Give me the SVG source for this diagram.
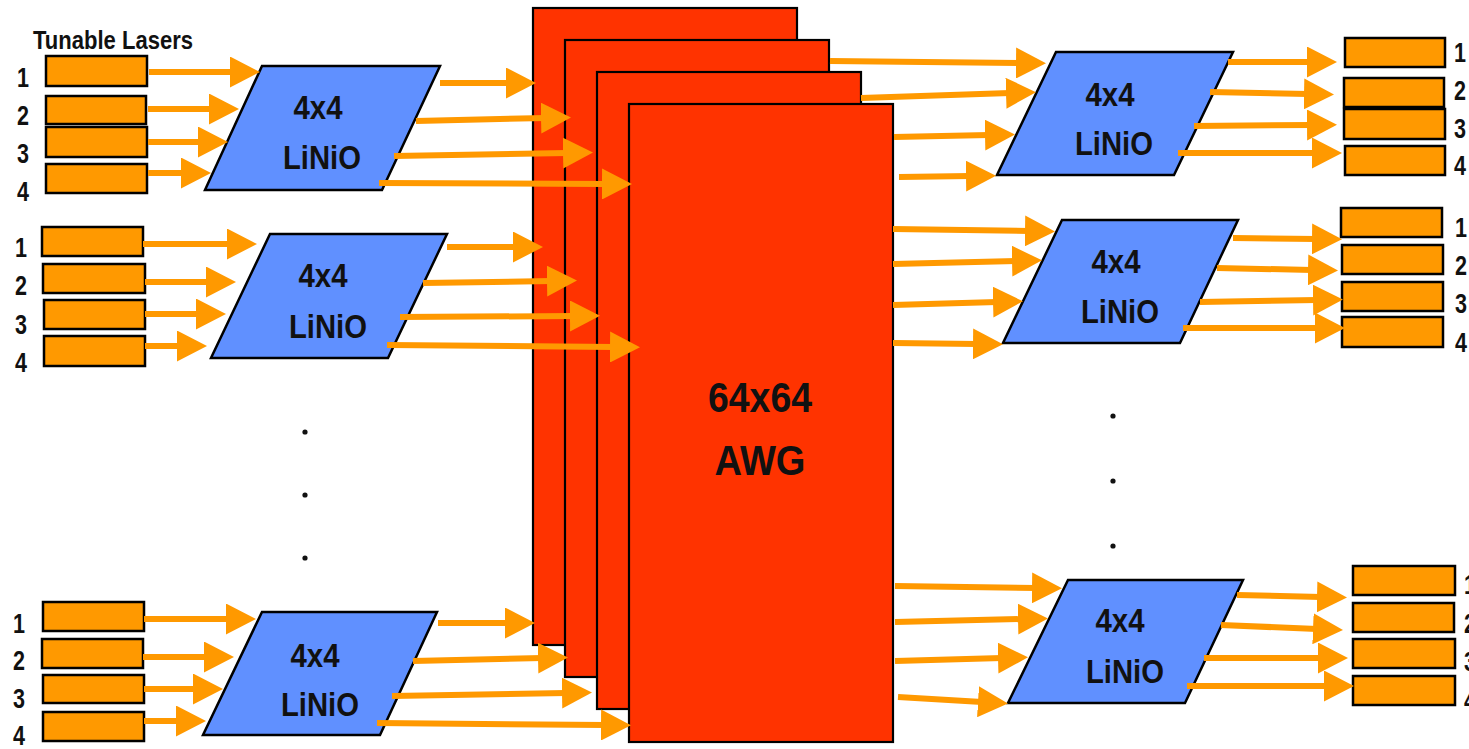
<svg xmlns="http://www.w3.org/2000/svg" width="1469" height="749" viewBox="0 0 1469 749">
  <defs>
    <style>
      .laser { fill: #FF9900; stroke: #000; stroke-width: 2.5; }
      .mod { fill: #6090FF; stroke: #000; stroke-width: 2.5; stroke-linejoin: miter; }
      .awg { fill: #FF3300; stroke: #000; stroke-width: 2.2; }
      .beam { fill: none; stroke: #FF9900; stroke-width: 6; marker-end: url(#head); }
      .lbl { font-family: "Liberation Sans Narrow", "Liberation Sans", Arial, sans-serif; font-weight: bold; fill: #111; }
      .num { font-family: "Liberation Sans Narrow", "Liberation Sans", Arial, sans-serif; font-weight: bold; font-size: 27px; fill: #111; }
      .modtxt { font-size: 33px; text-anchor: middle; }
      .dot { fill: #111; }
    </style>
    <marker id="head" markerUnits="userSpaceOnUse" markerWidth="31" markerHeight="31" viewBox="0 0 31 31" refX="4" refY="15.5" orient="auto">
      <path d="M0,0 L30,15.5 L0,31 z" fill="#FF9900"/>
    </marker>
  </defs>

  <rect width="1469" height="749" fill="#fff"/>

  <!-- stacked 64x64 AWG planes -->
  <g id="awg">
    <rect class="awg" x="533" y="8" width="264" height="637"/>
    <rect class="awg" x="565" y="40" width="264" height="637"/>
    <rect class="awg" x="597" y="72" width="264" height="637"/>
    <rect class="awg" x="629" y="104" width="264" height="638"/>
    <text class="lbl" x="760" y="412" font-size="43" text-anchor="middle" textLength="104" lengthAdjust="spacingAndGlyphs">64x64</text>
    <text class="lbl" x="760" y="475" font-size="43" text-anchor="middle" textLength="91" lengthAdjust="spacingAndGlyphs">AWG</text>
  </g>

  <text id="title" x="33" y="49" font-family="'Liberation Sans Narrow', 'Liberation Sans', Arial, sans-serif" font-size="25" font-weight="600" fill="#111" textLength="160" lengthAdjust="spacingAndGlyphs">Tunable Lasers</text>

  <!-- input laser banks, left -->
  <g id="lasers-in-1">
    <rect class="laser" x="46" y="56" width="101" height="30"/>
    <rect class="laser" x="46" y="96" width="100" height="28"/>
    <rect class="laser" x="46" y="127" width="101" height="30"/>
    <rect class="laser" x="46" y="164" width="101" height="29"/>
    <text class="num" x="17" y="87" textLength="12" lengthAdjust="spacingAndGlyphs">1</text>
    <text class="num" x="17" y="125" textLength="12" lengthAdjust="spacingAndGlyphs">2</text>
    <text class="num" x="17" y="163" textLength="12" lengthAdjust="spacingAndGlyphs">3</text>
    <text class="num" x="17" y="201" textLength="12" lengthAdjust="spacingAndGlyphs">4</text>
  </g>
  <g id="lasers-in-2">
    <rect class="laser" x="42" y="227" width="101" height="29"/>
    <rect class="laser" x="43" y="264" width="102" height="29"/>
    <rect class="laser" x="44" y="300" width="101" height="29"/>
    <rect class="laser" x="44" y="336" width="101" height="30"/>
    <text class="num" x="15" y="257" textLength="12" lengthAdjust="spacingAndGlyphs">1</text>
    <text class="num" x="15" y="295" textLength="12" lengthAdjust="spacingAndGlyphs">2</text>
    <text class="num" x="15" y="334" textLength="12" lengthAdjust="spacingAndGlyphs">3</text>
    <text class="num" x="15" y="372" textLength="12" lengthAdjust="spacingAndGlyphs">4</text>
  </g>
  <g id="lasers-in-3">
    <rect class="laser" x="43" y="602" width="101" height="29"/>
    <rect class="laser" x="42" y="639" width="101" height="29"/>
    <rect class="laser" x="43" y="675" width="101" height="28"/>
    <rect class="laser" x="43" y="712" width="101" height="29"/>
    <text class="num" x="13" y="633" textLength="12" lengthAdjust="spacingAndGlyphs">1</text>
    <text class="num" x="13" y="670" textLength="12" lengthAdjust="spacingAndGlyphs">2</text>
    <text class="num" x="13" y="708" textLength="12" lengthAdjust="spacingAndGlyphs">3</text>
    <text class="num" x="13" y="745" textLength="12" lengthAdjust="spacingAndGlyphs">4</text>
  </g>

  <!-- 4x4 LiNbO switches, left -->
  <g id="switch-in-1">
    <polygon class="mod" points="262,66 440,66 382,190 205,190"/>
    <text class="lbl modtxt" x="318" y="119" textLength="49" lengthAdjust="spacingAndGlyphs">4x4</text>
    <text class="lbl modtxt" x="322" y="169" textLength="78" lengthAdjust="spacingAndGlyphs">LiNiO</text>
  </g>
  <g id="switch-in-2">
    <polygon class="mod" points="270,234 447,234 388,358 211,358"/>
    <text class="lbl modtxt" x="323" y="287" textLength="49" lengthAdjust="spacingAndGlyphs">4x4</text>
    <text class="lbl modtxt" x="328" y="338" textLength="78" lengthAdjust="spacingAndGlyphs">LiNiO</text>
  </g>
  <g id="switch-in-3">
    <polygon class="mod" points="262,612 437,612 380,735 203,735"/>
    <text class="lbl modtxt" x="315" y="667" textLength="49" lengthAdjust="spacingAndGlyphs">4x4</text>
    <text class="lbl modtxt" x="320" y="716" textLength="78" lengthAdjust="spacingAndGlyphs">LiNiO</text>
  </g>

  <!-- 4x4 LiNbO switches, right -->
  <g id="switch-out-1">
    <polygon class="mod" points="1056,52 1233,52 1174,175 997,175"/>
    <text class="lbl modtxt" x="1110" y="106" textLength="49" lengthAdjust="spacingAndGlyphs">4x4</text>
    <text class="lbl modtxt" x="1114" y="155" textLength="78" lengthAdjust="spacingAndGlyphs">LiNiO</text>
  </g>
  <g id="switch-out-2">
    <polygon class="mod" points="1062,220 1238,220 1180,343 1003,343"/>
    <text class="lbl modtxt" x="1116" y="273" textLength="49" lengthAdjust="spacingAndGlyphs">4x4</text>
    <text class="lbl modtxt" x="1120" y="323" textLength="78" lengthAdjust="spacingAndGlyphs">LiNiO</text>
  </g>
  <g id="switch-out-3">
    <polygon class="mod" points="1068,580 1243,580 1185,703 1008,703"/>
    <text class="lbl modtxt" x="1120" y="632" textLength="49" lengthAdjust="spacingAndGlyphs">4x4</text>
    <text class="lbl modtxt" x="1125" y="683" textLength="78" lengthAdjust="spacingAndGlyphs">LiNiO</text>
  </g>

  <!-- receiver banks, right -->
  <g id="lasers-out-1">
    <rect class="laser" x="1345" y="38" width="100" height="29"/>
    <rect class="laser" x="1344" y="78" width="100" height="29"/>
    <rect class="laser" x="1344" y="109" width="101" height="30"/>
    <rect class="laser" x="1345" y="146" width="100" height="29"/>
    <text class="num" x="1454" y="62" textLength="12" lengthAdjust="spacingAndGlyphs">1</text>
    <text class="num" x="1454" y="100" textLength="12" lengthAdjust="spacingAndGlyphs">2</text>
    <text class="num" x="1454" y="138" textLength="12" lengthAdjust="spacingAndGlyphs">3</text>
    <text class="num" x="1454" y="175" textLength="12" lengthAdjust="spacingAndGlyphs">4</text>
  </g>
  <g id="lasers-out-2">
    <rect class="laser" x="1341" y="208" width="101" height="29"/>
    <rect class="laser" x="1342" y="245" width="101" height="29"/>
    <rect class="laser" x="1342" y="282" width="101" height="29"/>
    <rect class="laser" x="1342" y="317" width="101" height="30"/>
    <text class="num" x="1455" y="237" textLength="12" lengthAdjust="spacingAndGlyphs">1</text>
    <text class="num" x="1455" y="275" textLength="12" lengthAdjust="spacingAndGlyphs">2</text>
    <text class="num" x="1455" y="313" textLength="12" lengthAdjust="spacingAndGlyphs">3</text>
    <text class="num" x="1455" y="352" textLength="12" lengthAdjust="spacingAndGlyphs">4</text>
  </g>
  <g id="lasers-out-3">
    <rect class="laser" x="1353" y="566" width="102" height="29"/>
    <rect class="laser" x="1353" y="603" width="101" height="29"/>
    <rect class="laser" x="1353" y="639" width="102" height="29"/>
    <rect class="laser" x="1353" y="676" width="102" height="29"/>
    <text class="num" x="1464" y="594" textLength="12" lengthAdjust="spacingAndGlyphs">1</text>
    <text class="num" x="1464" y="633" textLength="12" lengthAdjust="spacingAndGlyphs">2</text>
    <text class="num" x="1464" y="671" textLength="12" lengthAdjust="spacingAndGlyphs">3</text>
    <text class="num" x="1464" y="710" textLength="12" lengthAdjust="spacingAndGlyphs">4</text>
  </g>

  <!-- continuation dots -->
  <g id="ellipsis">
    <circle class="dot" cx="305" cy="432" r="2.6"/>
    <circle class="dot" cx="305" cy="495" r="2.6"/>
    <circle class="dot" cx="305" cy="558" r="2.6"/>
    <circle class="dot" cx="1113" cy="416" r="2.6"/>
    <circle class="dot" cx="1113" cy="481" r="2.6"/>
    <circle class="dot" cx="1113" cy="546" r="2.6"/>
  </g>

  <!-- optical paths -->
  <g id="connectors">
    <!-- lasers to switch 1 -->
    <path class="beam" d="M149 72 L234 72"/>
    <path class="beam" d="M148 109 L213 109"/>
    <path class="beam" d="M148 142 L202 142"/>
    <path class="beam" d="M148 173 L185 173"/>
    <!-- switch 1 to AWG -->
    <path class="beam" d="M440 83 L510 83"/>
    <path class="beam" d="M416 121 L545 118"/>
    <path class="beam" d="M394 156 L567 153"/>
    <path class="beam" d="M379 183 L606 184"/>

    <!-- lasers to switch 2 -->
    <path class="beam" d="M143 244 L231 244"/>
    <path class="beam" d="M145 282 L210 282"/>
    <path class="beam" d="M145 314 L200 314"/>
    <path class="beam" d="M145 346 L181 346"/>
    <!-- switch 2 to AWG -->
    <path class="beam" d="M447 247 L517 247"/>
    <path class="beam" d="M423 283 L551 281"/>
    <path class="beam" d="M400 317 L574 316"/>
    <path class="beam" d="M387 345 L614 347"/>

    <!-- lasers to switch 3 -->
    <path class="beam" d="M144 619 L230 619"/>
    <path class="beam" d="M143 657 L208 657"/>
    <path class="beam" d="M144 689 L197 689"/>
    <path class="beam" d="M144 721 L180 721"/>
    <!-- switch 3 to AWG -->
    <path class="beam" d="M438 623 L509 623"/>
    <path class="beam" d="M413 661 L542 658"/>
    <path class="beam" d="M392 696 L566 693"/>
    <path class="beam" d="M377 723 L605 725"/>

    <!-- AWG to output switch 1 -->
    <path class="beam" d="M830 61 L1020 63"/>
    <path class="beam" d="M861 98 L1010 93"/>
    <path class="beam" d="M894 137 L989 135"/>
    <path class="beam" d="M899 177 L970 176"/>
    <!-- output switch 1 to receivers -->
    <path class="beam" d="M1228 62 L1311 62"/>
    <path class="beam" d="M1210 92 L1308 94"/>
    <path class="beam" d="M1194 126 L1311 125"/>
    <path class="beam" d="M1178 153 L1316 153"/>

    <!-- AWG to output switch 2 -->
    <path class="beam" d="M893 229 L1029 231"/>
    <path class="beam" d="M893 264 L1016 261"/>
    <path class="beam" d="M893 305 L997 302"/>
    <path class="beam" d="M893 343 L977 344"/>
    <!-- output switch 2 to receivers -->
    <path class="beam" d="M1233 238 L1316 239"/>
    <path class="beam" d="M1217 268 L1312 270"/>
    <path class="beam" d="M1200 302 L1317 300"/>
    <path class="beam" d="M1183 328 L1319 328"/>

    <!-- AWG to output switch 3 -->
    <path class="beam" d="M895 586 L1036 588"/>
    <path class="beam" d="M895 622 L1022 619"/>
    <path class="beam" d="M895 661 L1002 658"/>
    <path class="beam" d="M898 697 L982 702"/>
    <!-- output switch 3 to receivers -->
    <path class="beam" d="M1237 595 L1321 597"/>
    <path class="beam" d="M1221 625 L1317 629"/>
    <path class="beam" d="M1204 658 L1322 658"/>
    <path class="beam" d="M1187 686 L1328 686"/>
  </g>
</svg>
